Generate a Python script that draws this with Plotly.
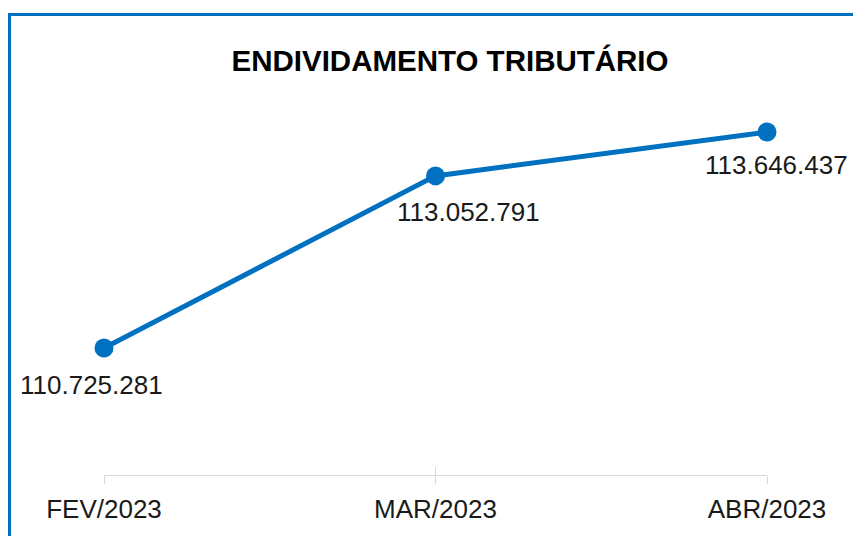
import plotly.graph_objects as go

months = ["FEV/2023", "MAR/2023", "ABR/2023"]
values = [110725281, 113052791, 113646437]
label_dx = [-13, 33, 9]
label_dy = [-37, -36, -33]

BLUE = "#0070C0"
W, H = 853, 536
ML, MR, MT, MB = 104, 86, 100, 61

def fmt(v):
    return f"{v:,}".replace(",", ".")

xs = list(range(len(months)))

fig = go.Figure()
fig.add_trace(go.Scatter(
    x=xs, y=values, mode="lines+markers",
    line=dict(color=BLUE, width=5),
    marker=dict(color=BLUE, size=19),
    cliponaxis=False,
    hoverinfo="skip", showlegend=False,
))
# invisible trace to carry the overlaid axis with inside ticks
fig.add_trace(go.Scatter(x=xs, y=values, xaxis="x2", mode="markers",
                         marker=dict(opacity=0), hoverinfo="skip", showlegend=False))

annotations = []
for i, v in enumerate(values):
    annotations.append(dict(
        x=xs[i], y=v, xref="x", yref="y", text=fmt(v), showarrow=False,
        xshift=label_dx[i], yshift=label_dy[i],
        font=dict(family="Liberation Sans, Arial, sans-serif", size=26, color="#1a1a1a"),
        xanchor="center", yanchor="middle",
    ))

pw = W - ML - MR
ph = H - MT - MB
def px_to_paper_x(px):
    return (px - ML) / pw
def px_to_paper_y(py):
    return (H - MB - py) / ph

shapes = [
    dict(type="line", xref="paper", yref="paper",
         x0=px_to_paper_x(9.5), x1=px_to_paper_x(9.5),
         y0=px_to_paper_y(13), y1=px_to_paper_y(H + 5),
         line=dict(color=BLUE, width=3)),
    dict(type="line", xref="paper", yref="paper",
         x0=px_to_paper_x(8), x1=px_to_paper_x(W + 5),
         y0=px_to_paper_y(14.5), y1=px_to_paper_y(14.5),
         line=dict(color=BLUE, width=3)),
]

xr = [0, 2]
fig.update_layout(
    width=W, height=H,
    margin=dict(l=ML, r=MR, t=MT, b=MB),
    paper_bgcolor="white", plot_bgcolor="white",
    title=dict(
        text="<b>ENDIVIDAMENTO TRIBUTÁRIO</b>",
        x=450 / W, xref="container", xanchor="center",
        y=1 - 61 / H, yref="container", yanchor="middle",
        font=dict(family="Liberation Sans, Arial, sans-serif", size=29.5, color="black"),
    ),
    xaxis=dict(
        range=xr, tickvals=xs, ticktext=months,
        showgrid=False, zeroline=False,
        showline=True, linecolor="#d9d9d9", linewidth=1,
        ticks="outside", ticklen=8, tickcolor="#d9d9d9", tickwidth=1,
        tickfont=dict(family="Liberation Sans, Arial, sans-serif", size=26, color="#1a1a1a"),
        ticklabelstandoff=3,
    ),
    xaxis2=dict(
        range=xr, tickvals=xs, ticktext=["", "", ""], overlaying="x",
        anchor="y", side="bottom",
        showgrid=False, zeroline=False, showline=False,
        ticks="inside", ticklen=8, tickcolor="#d9d9d9", tickwidth=1,
        showticklabels=False,
    ),
    yaxis=dict(
        range=[109007733, 114079205], visible=False,
        showgrid=False, zeroline=False,
    ),
    annotations=annotations,
    shapes=shapes,
)

fig.write_html(
    "out.html",
    config={"displayModeBar": False},
    post_script="document.body.style.margin='0';document.body.style.padding='0';document.body.style.overflow='hidden';",
)
